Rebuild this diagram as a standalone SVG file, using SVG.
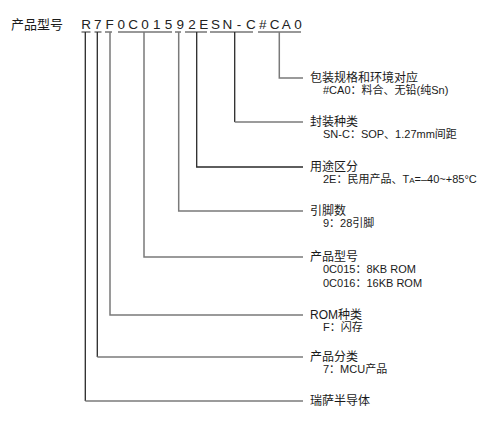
<svg xmlns="http://www.w3.org/2000/svg" width="496" height="431" viewBox="0 0 496 431">
<style>
  text { font-family: "Liberation Sans", "Noto Sans CJK SC", sans-serif; fill: #1a1a1a; }
  .title { font-size: 13px; }
  .pn { font-size: 13.5px; text-anchor: middle; fill: #222; }
  .lbl { font-size: 12px; }
  .sub { font-size: 11px; }
  .ul { stroke: #333; stroke-width: 1.2; fill: none; }
  .dk { stroke: #2a2a2a; stroke-width: 1.3; fill: none; }
  .gr { stroke: #7a7a7a; stroke-width: 1.5; fill: none; }
</style>
<rect width="496" height="431" fill="#ffffff"/>
<g id="title">
  <text class="title" x="11" y="29">产品型号</text>
</g>
<g id="partnumber">
  <text class="pn" y="29" x="86 97.8 109.6 121.3 133.1 144.9 156.7 168.5 180.2 192 203.8 215.6 227.4 239.1 250.9 262.7 274.5 286.3 298">R7F0C01592ESN-C#CA0</text>
  <path class="ul" d="M81.5 32H90.5 M94.5 32H101.5 M105 32H112 M118 32H172 M175 32H181 M185 32H207 M210 32H253 M258 32H301"/>
</g>
<g id="connectors">
  <path class="dk" d="M85.3 32V401"/>
  <path class="gr" d="M85.3 401H303"/>
  <path class="dk" d="M97.3 32V357"/>
  <path class="gr" d="M97.3 357H303"/>
  <path class="gr" d="M110 32V315H303"/>
  <path class="gr" d="M144 32V257H303"/>
  <path class="gr" d="M178.7 32V211H303"/>
  <path class="dk" d="M196.7 32V167H303"/>
  <path class="dk" d="M234.7 32V122"/>
  <path class="gr" d="M234.7 122H303"/>
  <path class="gr" d="M279.3 32V78H303"/>
</g>
<g id="node-package">
  <text class="lbl" x="310" y="81.5">包装规格和环境对应</text>
  <text class="sub" x="323" y="93.5">#CA0：料合、无铅(纯Sn)</text>
</g>
<g id="node-enclosure">
  <text class="lbl" x="310" y="125.5">封装种类</text>
  <text class="sub" x="323" y="137.5">SN-C：SOP、1.27mm间距</text>
</g>
<g id="node-usage">
  <text class="lbl" x="310" y="170.5">用途区分</text>
  <text class="sub" x="323" y="182.5">2E：民用产品、T<tspan font-size="8">A</tspan>=–40~+85°C</text>
</g>
<g id="node-pins">
  <text class="lbl" x="310" y="214.5">引脚数</text>
  <text class="sub" x="323" y="226.5">9：28引脚</text>
</g>
<g id="node-model">
  <text class="lbl" x="310" y="260.5">产品型号</text>
  <text class="sub" x="323" y="273">0C015：8KB ROM</text>
  <text class="sub" x="323" y="286.5">0C016：16KB ROM</text>
</g>
<g id="node-rom">
  <text class="lbl" x="310" y="318.5">ROM种类</text>
  <text class="sub" x="323" y="330.5">F：闪存</text>
</g>
<g id="node-category">
  <text class="lbl" x="310" y="360.5">产品分类</text>
  <text class="sub" x="323" y="372.5">7：MCU产品</text>
</g>
<g id="node-renesas">
  <text class="lbl" x="310" y="404.5">瑞萨半导体</text>
</g>
</svg>
